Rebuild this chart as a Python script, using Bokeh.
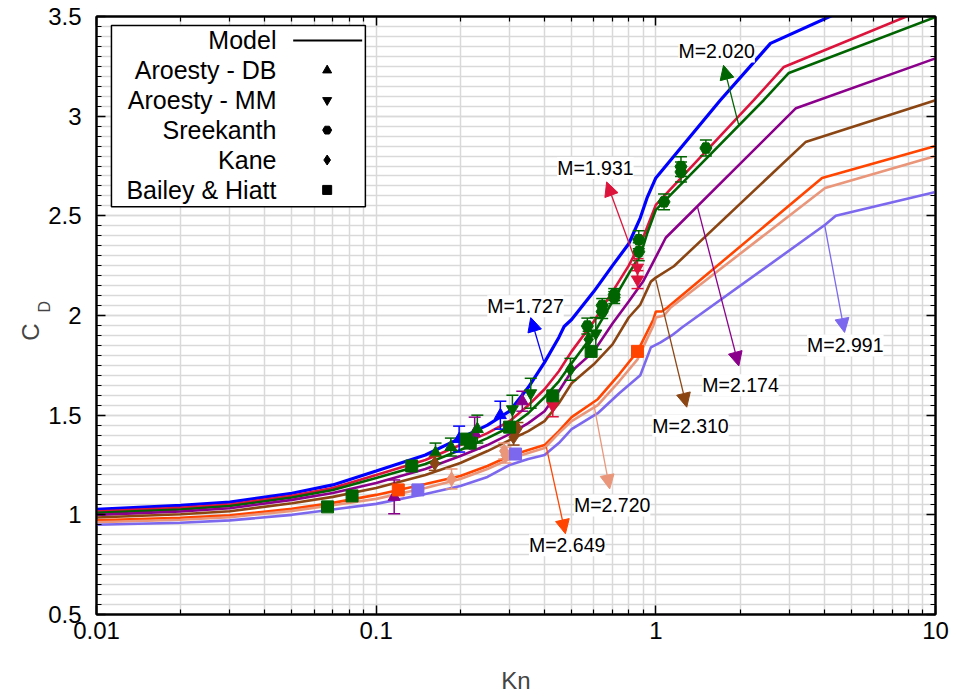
import numpy as np
from bokeh.plotting import figure
from bokeh.models import (Range1d, FixedTicker, CustomJSTickFormatter, LinearAxis, LogAxis,
                          Label, Arrow, NormalHead)
from bokeh.embed import file_html
from bokeh.resources import INLINE

FONT = "Liberation Sans"
NBSP = "\u00a0"

# ---- model curves: drag coefficient vs Knudsen number, one per Mach number ----
kn_m1727 = [0.01, 0.02, 0.03, 0.05, 0.07, 0.1, 0.15, 0.2, 0.25, 0.3, 0.35, 0.4, 0.45, 0.47, 0.5, 0.6, 0.7, 0.8, 0.88, 0.93, 1.0, 1.7, 2.57, 10]
cd_m1727 = [1.027, 1.047, 1.064, 1.108, 1.15, 1.22, 1.30, 1.385, 1.45, 1.52, 1.64, 1.765, 1.89, 1.945, 1.98, 2.12, 2.25, 2.36, 2.49, 2.59, 2.69, 3.08, 3.365, 3.74]

kn_m1931 = [0.01, 0.02, 0.03, 0.05, 0.07, 0.1, 0.15, 0.2, 0.25, 0.3, 0.35, 0.4, 0.45, 0.5, 0.6, 0.7, 0.8, 0.9, 1.0, 2.24, 2.87, 10]
cd_m1931 = [1.017, 1.035, 1.052, 1.095, 1.135, 1.20, 1.275, 1.35, 1.41, 1.47, 1.55, 1.63, 1.72, 1.82, 1.97, 2.12, 2.25, 2.39, 2.555, 3.08, 3.247, 3.56]

kn_m2020 = [0.01, 0.02, 0.03, 0.05, 0.07, 0.1, 0.15, 0.2, 0.25, 0.3, 0.35, 0.4, 0.45, 0.5, 0.6, 0.7, 0.8, 0.85, 0.88, 0.93, 1.0, 2.43, 2.99, 10]
cd_m2020 = [1.01, 1.027, 1.044, 1.087, 1.125, 1.185, 1.255, 1.325, 1.385, 1.44, 1.51, 1.59, 1.67, 1.76, 1.91, 2.07, 2.21, 2.27, 2.30, 2.41, 2.53, 3.08, 3.217, 3.497]

kn_m2174 = [0.01, 0.02, 0.03, 0.05, 0.07, 0.1, 0.15, 0.2, 0.25, 0.3, 0.35, 0.4, 0.45, 0.5, 0.6, 0.7, 0.8, 0.9, 0.96, 1.085, 3.17, 10]
cd_m2174 = [1.0, 1.017, 1.033, 1.075, 1.11, 1.16, 1.23, 1.295, 1.35, 1.405, 1.46, 1.52, 1.62, 1.72, 1.82, 1.96, 2.07, 2.17, 2.245, 2.39, 3.04, 3.29]

kn_m2310 = [0.01, 0.02, 0.03, 0.05, 0.07, 0.1, 0.15, 0.2, 0.25, 0.3, 0.35, 0.4, 0.45, 0.5, 0.6, 0.7, 0.8, 0.88, 0.96, 1.0, 1.16, 3.43, 10]
cd_m2310 = [0.987, 1.003, 1.018, 1.058, 1.09, 1.135, 1.20, 1.26, 1.32, 1.375, 1.42, 1.47, 1.56, 1.66, 1.755, 1.855, 1.99, 2.055, 2.17, 2.19, 2.247, 2.87, 3.08]

kn_m2649 = [0.01, 0.02, 0.03, 0.05, 0.07, 0.1, 0.15, 0.2, 0.25, 0.3, 0.35, 0.4, 0.45, 0.5, 0.62, 0.74, 0.86, 0.98, 1.0, 1.05, 1.1, 3.93, 10]
cd_m2649 = [0.972, 0.985, 0.998, 1.03, 1.06, 1.10, 1.155, 1.195, 1.245, 1.295, 1.325, 1.35, 1.42, 1.49, 1.58, 1.705, 1.82, 1.98, 2.02, 2.02, 2.04, 2.69, 2.85]

kn_m2720 = [0.01, 0.02, 0.03, 0.05, 0.07, 0.1, 0.15, 0.2, 0.25, 0.3, 0.35, 0.4, 0.45, 0.5, 0.62, 0.74, 0.86, 0.9, 0.98, 1.0, 1.07, 1.13, 4.03, 10]
cd_m2720 = [0.963, 0.975, 0.988, 1.02, 1.048, 1.08, 1.135, 1.18, 1.23, 1.28, 1.31, 1.335, 1.41, 1.47, 1.55, 1.67, 1.78, 1.84, 1.95, 1.99, 2.0, 2.04, 2.64, 2.80]

kn_m2991 = [0.01, 0.02, 0.03, 0.05, 0.07, 0.1, 0.15, 0.2, 0.25, 0.3, 0.35, 0.4, 0.45, 0.5, 0.62, 0.74, 0.88, 0.96, 1.04, 1.14, 1.19, 1.24, 4.03, 4.4, 10]
cd_m2991 = [0.95, 0.96, 0.972, 1.0, 1.027, 1.055, 1.105, 1.145, 1.19, 1.25, 1.28, 1.30, 1.36, 1.43, 1.51, 1.61, 1.70, 1.84, 1.865, 1.90, 1.92, 1.94, 2.455, 2.50, 2.62]

mach_labels = ["1.727", "1.931", "2.020", "2.174", "2.310", "2.649", "2.720", "2.991"]
mach_colors = ["#0000ff", "#dc143c", "#006400", "#8b008b", "#8b4513", "#ff4500", "#e9967a", "#7b68ee"]

# ---- experimental data (Kn, C_D, error, Mach) ----
db_kn = [0.116, 0.163, 0.185, 0.198, 0.225, 0.23, 0.278, 0.333]
db_cd = [1.09, 1.31, 1.34, 1.38, 1.41, 1.43, 1.50, 1.57]
db_err = [0.085, 0.05, 0.045, 0.065, 0.08, 0.07, 0.07, 0.05]
db_mach = ["2.174", "2.020", "2.020", "1.727", "2.174", "2.020", "1.727", "2.174"]

mm_kn = [0.307, 0.357, 0.428, 0.61, 0.86, 0.86]
mm_cd = [1.53, 1.61, 1.547, 1.91, 2.24, 2.18]
mm_err = [0.07, 0.075, 0.055, 0.08, 0.045, 0.045]
mm_mach = ["2.020", "2.020", "1.931", "2.020", "1.931", "1.931"]

sr_kn = [0.569, 0.643, 0.643, 0.71, 0.71, 0.869, 0.869, 1.07, 1.23, 1.23, 1.51]
sr_cd = [1.947, 2.05, 2.02, 2.105, 2.09, 2.38, 2.32, 2.57, 2.747, 2.72, 2.84]
sr_err = [0.04, 0.035, 0.035, 0.03, 0.03, 0.045, 0.045, 0.04, 0.05, 0.05, 0.04]
sr_mach = ["2.020"] * 11

kane_kn = [0.162, 0.186, 0.287, 0.29, 0.31, 0.32, 0.495, 0.575]
kane_cd = [1.258, 1.18, 1.32, 1.30, 1.39, 1.433, 1.73, 1.88]
kane_err = [0.035, 0.05, 0.04, 0.04, 0.04, 0.03, 0.055, 0.04]
kane_mach = ["2.310", "2.720", "2.720", "2.720", "2.310", "2.310", "2.020", "2.020"]

bh_kn = [0.067, 0.082, 0.134, 0.21, 0.217, 0.30, 0.428, 0.587, 0.12, 0.86, 0.141, 0.315]
bh_cd = [1.04, 1.095, 1.245, 1.38, 1.36, 1.44, 1.597, 1.82, 1.125, 1.82, 1.125, 1.305]
bh_mach = ["2.020"] * 8 + ["2.649", "2.649", "2.991", "2.991"]

# call-out placement for each curve: text centre, arrow tip, arrow tail (Kn, C_D)
lab_text = [(0.342, 2.047), (0.608, 2.74), (1.65, 3.325), (2.008, 1.65),
            (1.33, 1.447), (0.482, 0.847), (0.698, 1.047), (4.76, 1.85)]
lab_tip = [(0.357, 1.99), (0.667, 2.67), (1.746, 3.255), (1.98, 1.747),
           (1.29, 1.54), (0.475, 0.905), (0.684, 1.13), (4.73, 1.915)]
lab_tail = [(0.397, 1.77), (0.853, 2.26), (1.975, 2.96), (1.406, 2.55),
            (1.0, 2.18), (0.406, 1.34), (0.60, 1.555), (4.02, 2.45)]

# legend entries
legend_names = ["Model", "Aroesty - DB", "Aroesty - MM", "Sreekanth", "Kane", "Bailey & Hiatt"]
legend_markers = [None, "triangle", "inverted_triangle", "hex", "diamond", "square"]

color_of = dict(zip(mach_labels, mach_colors))

p = figure(width=958, height=696, x_axis_type="log",
           x_range=Range1d(0.01, 10), y_range=Range1d(0.5, 3.5),
           output_backend="svg", toolbar_location=None,
           min_border_left=96, min_border_right=23, min_border_top=16, min_border_bottom=80)
p.background_fill_color = "white"
p.border_fill_color = "white"
p.outline_line_color = "black"
p.outline_line_width = 2

x_major = [0.01, 0.1, 1, 10]
x_minor = [m * 10.0 ** e for e in (-2, -1, 0) for m in range(2, 10)]
y_major = [0.5, 1, 1.5, 2, 2.5, 3, 3.5]
y_minor = [round(0.5 + 0.05 * i, 2) for i in range(61)]

fmt = CustomJSTickFormatter(code="return String(Number(tick.toPrecision(6)));")


def style_ticks(ax):
    ax.axis_line_color = "black"
    ax.axis_line_width = 2
    ax.major_tick_in = 9
    ax.major_tick_out = 0
    ax.minor_tick_in = 5
    ax.minor_tick_out = 0
    ax.major_tick_line_color = "black"
    ax.minor_tick_line_color = "black"
    ax.major_tick_line_width = 1.5
    ax.minor_tick_line_width = 1.2


for ax, maj, mnr in ((p.xaxis[0], x_major, x_minor), (p.yaxis[0], y_major, y_minor)):
    ax.ticker = FixedTicker(ticks=maj, minor_ticks=mnr)
    style_ticks(ax)
    ax.formatter = fmt
    ax.major_label_text_font = FONT
    ax.major_label_text_font_size = "24px"
    ax.major_label_text_color = "black"

p.xaxis[0].major_label_standoff = 7
p.yaxis[0].major_label_standoff = 15
p.xaxis[0].axis_label = "Kn"
p.xaxis[0].axis_label_text_font = FONT
p.xaxis[0].axis_label_text_font_size = "24px"
p.xaxis[0].axis_label_text_font_style = "normal"
p.xaxis[0].axis_label_standoff = 25

# mirrored tick marks on the top and right edges (marks only, no labels)
for side, cls, maj, mnr in (("above", LogAxis, x_major, x_minor), ("right", LinearAxis, y_major, y_minor)):
    ax_minor = cls(ticker=FixedTicker(ticks=[], minor_ticks=mnr))
    style_ticks(ax_minor)
    ax_major = cls(ticker=FixedTicker(ticks=[], minor_ticks=maj))
    style_ticks(ax_major)
    ax_major.minor_tick_in = 9
    ax_major.minor_tick_line_width = 1.5
    ax_major.axis_line_color = None
    p.add_layout(ax_minor, side)
    p.add_layout(ax_major, side)

# y-axis title C_D built from two label-only axes (subscript sits nearer the frame)
ax_sub = LinearAxis(ticker=FixedTicker(ticks=[], minor_ticks=[]),
                    axis_label=NBSP * 4 + "D", axis_label_standoff=-7, axis_line_color=None,
                    axis_label_text_font=FONT, axis_label_text_font_size="16px",
                    axis_label_text_font_style="normal", major_tick_line_color=None,
                    minor_tick_line_color=None)
ax_main = LinearAxis(ticker=FixedTicker(ticks=[], minor_ticks=[]),
                     axis_label="C" + NBSP * 5, axis_label_standoff=-11, axis_line_color=None,
                     axis_label_text_font=FONT, axis_label_text_font_size="24px",
                     axis_label_text_font_style="normal", major_tick_line_color=None,
                     minor_tick_line_color=None)
p.add_layout(ax_sub, "left")
p.add_layout(ax_main, "left")

for g, maj, mnr in ((p.xgrid[0], x_major, x_minor), (p.ygrid[0], y_major, y_minor)):
    g.ticker = FixedTicker(ticks=maj, minor_ticks=mnr)
    g.grid_line_color = "#d9d9d9"
    g.grid_line_width = 1.5
    g.minor_grid_line_color = "#d9d9d9"
    g.minor_grid_line_width = 1.5

# model curves
curves = [(kn_m1727, cd_m1727), (kn_m1931, cd_m1931), (kn_m2020, cd_m2020), (kn_m2174, cd_m2174),
          (kn_m2310, cd_m2310), (kn_m2649, cd_m2649), (kn_m2720, cd_m2720), (kn_m2991, cd_m2991)]
for (kn, cd), col in zip(curves, mach_colors):
    p.line(kn, cd, line_color=col, line_width=3.2 if col == "#0000ff" else 2.6)


# experimental points with error bars
def add_points(kn, cd, mach, marker, size, err=None):
    cols = [color_of[m] for m in mach]
    if err is not None:
        lo = [c - e for c, e in zip(cd, err)]
        hi = [c + e for c, e in zip(cd, err)]
        p.segment(kn, lo, kn, hi, line_color=cols, line_width=1.5)
        p.scatter(kn + kn, lo + hi, marker="dash", size=12, line_color=cols + cols, line_width=1.5)
    p.scatter(kn, cd, marker=marker, size=size, fill_color=cols, line_color=cols)


add_points(db_kn, db_cd, db_mach, "triangle", 12, db_err)
add_points(mm_kn, mm_cd, mm_mach, "inverted_triangle", 12, mm_err)
add_points(sr_kn, sr_cd, sr_mach, "hex", 12, sr_err)
add_points(kane_kn, kane_cd, kane_mach, "diamond", 14, kane_err)
add_points(bh_kn, bh_cd, bh_mach, "square", 12)

# Mach number call-outs
for lab, col, (tx, ty), (hx, hy), (sx, sy) in zip(mach_labels, mach_colors, lab_text, lab_tip, lab_tail):
    p.add_layout(Arrow(end=NormalHead(size=14, fill_color=col, line_color=col, line_width=1),
                       x_start=sx, y_start=sy, x_end=hx, y_end=hy,
                       line_color=col, line_width=1.3))
    p.add_layout(Label(x=tx, y=ty, text="M=" + lab, text_align="center", text_baseline="middle",
                       text_font=FONT, text_font_size="19.5px", text_color="black",
                       background_fill_color="white", background_fill_alpha=1.0))

# legend: white box, right-aligned names, symbol column
p.quad(left=[0.01131], right=[0.0915], top=[3.455], bottom=[2.545],
       fill_color="white", line_color="black", line_width=1.5)
row_y = [3.38 - 0.15 * i for i in range(len(legend_names))]
for name, mk, yy in zip(legend_names, legend_markers, row_y):
    p.add_layout(Label(x=0.0440, y=yy, text=name, text_align="right", text_baseline="middle",
                       text_font=FONT, text_font_size="25px", text_color="black"))
    if mk is None:
        p.line([0.0505, 0.0891], [yy, yy], line_color="black", line_width=2)
    else:
        p.scatter([0.0668], [yy], marker=mk, size=9 if mk != "diamond" else 10,
                  fill_color="black", line_color="black")

open("out.html", "w").write(file_html(p, INLINE))
